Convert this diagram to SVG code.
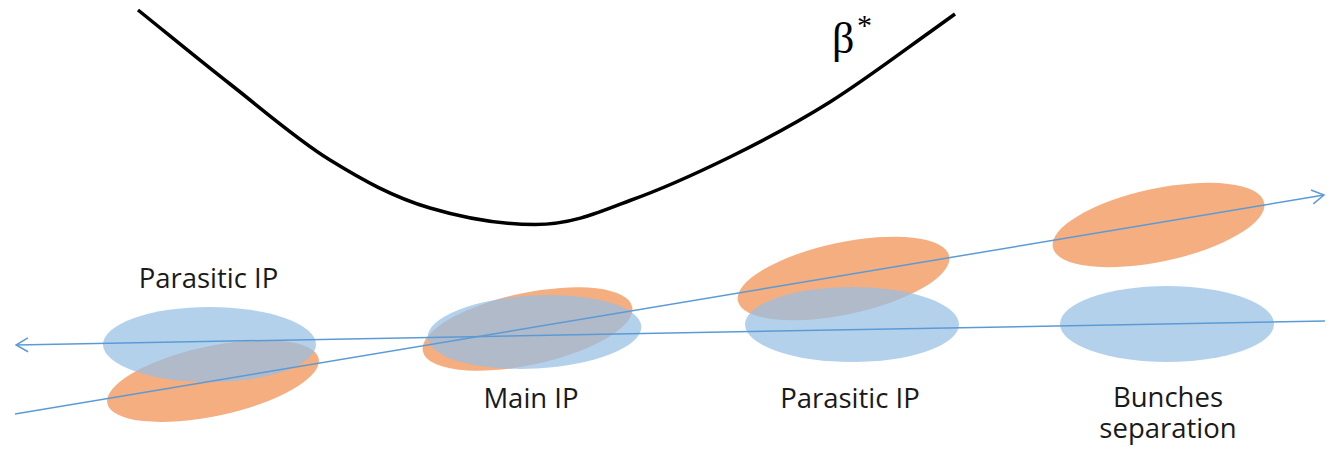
<svg xmlns="http://www.w3.org/2000/svg" width="1339" height="453" viewBox="0 0 1339 453">
<style>
.bg{fill:#ffffff}
.orange{fill:#f4ae80}
.blue{fill:#97bfe5;fill-opacity:0.72}
.beam{stroke:#5b9bd5;stroke-width:1.5;fill:none}
.lbl{font-family:"Open Sans","Liberation Sans",sans-serif;font-size:27.5px;fill:#1a1a1a;text-anchor:middle}
.curve{stroke:#000;stroke-width:3.5;fill:none}
.serif{font-family:"Liberation Serif","DejaVu Serif",serif;fill:#000}
</style>
<defs>
<marker id="arr" viewBox="0 0 14 16" refX="13" refY="8" markerWidth="14" markerHeight="16" markerUnits="userSpaceOnUse" orient="auto">
<path d="M1,1 L13,8 L1,15" fill="none" stroke="#5b9bd5" stroke-width="1.5"/>
</marker>
</defs>
<rect class="bg" x="0" y="0" width="1339" height="453"/>
<g id="beta-curve">
<path class="curve" d="M138,10 C168.7,34.7 198,59 230,84 C262,109 296.7,139.5 330,160 C363.3,180.5 393,197 430,208 C462,217.5 495,224.5 535,224.5 C572,224.5 600,212 630,200.5 C662.8,188.8 696.7,173.3 730,157 C763.3,140.7 796.7,122.8 830,102 C863.3,81.2 909.2,46.7 930,32 L955,14"/>
<text class="serif" x="832" y="53" font-size="44">β</text>
<text class="serif" x="857" y="35" font-size="30">*</text>
</g>
<g id="parasitic-left">
<ellipse class="orange" cx="213" cy="381" rx="108" ry="35" transform="rotate(-12 213 381)"/>
<ellipse class="blue" cx="209.5" cy="344.5" rx="106.5" ry="37.5"/>
<text class="lbl" x="208.5" y="288">Parasitic IP</text>
</g>
<g id="main-ip">
<ellipse class="orange" cx="527.5" cy="329" rx="107" ry="36" transform="rotate(-12 527.5 329)"/>
<ellipse class="blue" cx="534.5" cy="332" rx="107" ry="36.5" transform="rotate(-3 534.5 332)"/>
<text class="lbl" x="531" y="408">Main IP</text>
</g>
<g id="parasitic-right">
<ellipse class="orange" cx="843.5" cy="278.5" rx="108" ry="36" transform="rotate(-12 843.5 278.5)"/>
<ellipse class="blue" cx="852" cy="324.5" rx="107" ry="37.5"/>
<text class="lbl" x="850" y="408">Parasitic IP</text>
</g>
<g id="bunches-separation">
<ellipse class="orange" cx="1158.5" cy="225" rx="108" ry="36.5" transform="rotate(-12 1158.5 225)"/>
<ellipse class="blue" cx="1167" cy="324" rx="107" ry="38"/>
<text class="lbl"><tspan x="1168" y="407">Bunches</tspan><tspan x="1168" y="438">separation</tspan></text>
</g>
<g id="connectors">
<line class="beam" x1="1325" y1="321" x2="16" y2="345" marker-end="url(#arr)"/>
<line class="beam" x1="15" y1="414" x2="1324" y2="195" marker-end="url(#arr)"/>
</g>
</svg>
